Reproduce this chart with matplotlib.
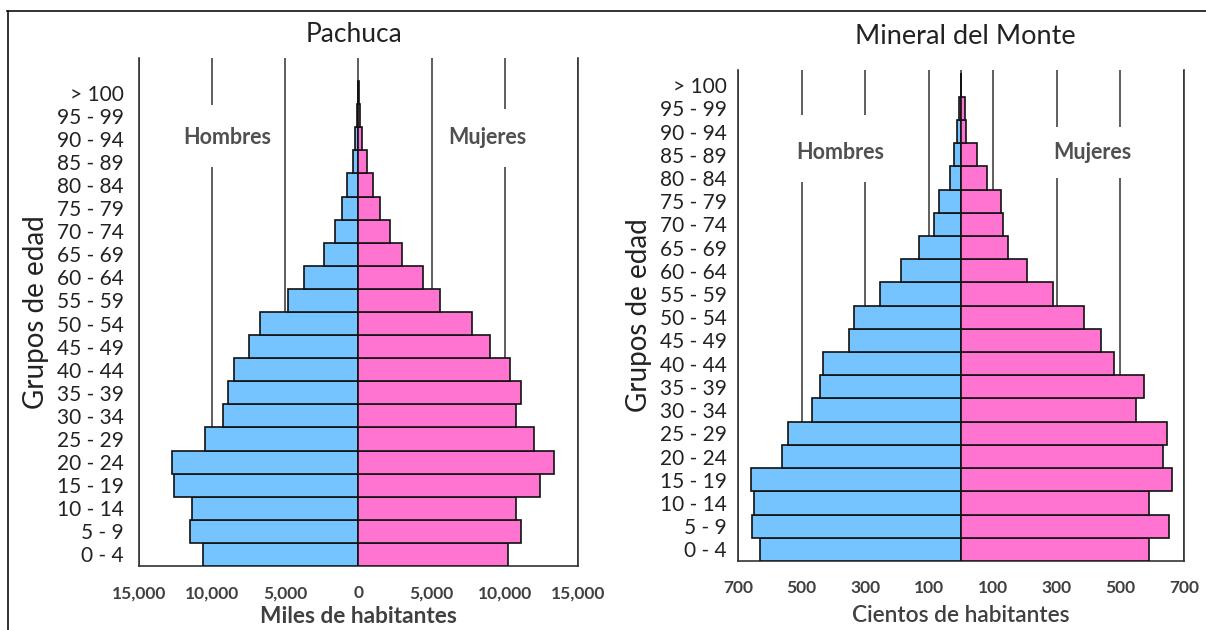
import matplotlib
matplotlib.use("Agg")
import matplotlib.pyplot as plt
from matplotlib.patches import Rectangle
from matplotlib.lines import Line2D
import numpy as np

plt.rcParams['font.family'] = ['Lato', 'DejaVu Sans']

age_groups = ["0 - 4", "5 - 9", "10 - 14", "15 - 19", "20 - 24", "25 - 29", "30 - 34",
              "35 - 39", "40 - 44", "45 - 49", "50 - 54", "55 - 59", "60 - 64", "65 - 69",
              "70 - 74", "75 - 79", "80 - 84", "85 - 89", "90 - 94", "95 - 99", "> 100"]

# Pachuca (miles de habitantes)
pachuca_hombres = [10620, 11510, 11350, 12640, 12770, 10510, 9250, 8890, 8490, 7500, 6760,
                   4850, 3750, 2360, 1620, 1130, 760, 390, 240, 100, 10]
pachuca_mujeres = [10250, 11120, 10750, 12400, 13370, 12010, 10750, 11120, 10380, 9020, 7760,
                   5580, 4380, 2990, 2150, 1490, 990, 600, 260, 100, 20]

# Mineral del Monte (cientos de habitantes)
mineral_hombres = [632, 655, 649, 659, 563, 542, 467, 443, 432, 353, 336,
                   255, 187, 131, 85, 69, 35, 23, 12, 7, 1]
mineral_mujeres = [589, 652, 589, 661, 635, 647, 548, 573, 480, 439, 387,
                   289, 208, 149, 132, 127, 81, 51, 16, 12, 1]

pachuca_ticks = [-15000, -10000, -5000, 0, 5000, 10000, 15000]
pachuca_ticklabels = ["15,000", "10,000", "5,000", "0", "5,000", "10,000", "15,000"]
mineral_ticks = [-700, -500, -300, -100, 0, 100, 300, 500, 700]
mineral_ticklabels = ["700", "500", "300", "100", "", "100", "300", "500", "700"]

BLUE = "#75C4FF"
PINK = "#FF73D1"
TXT = "#404040"

W, H = 1206, 630
fig = plt.figure(figsize=(W / 100, H / 100), dpi=100)


def fx(px):
    return px / W


def fy(py):
    return 1 - py / H


def panel(rect, hombres, mujeres, ticks, ticklabels, xlabel, xlabel_weight,
          ylim_top, lab_pad, tick_pad, gap_left, gap_right, text_y, text_xl, text_xr, lim):
    ax = fig.add_axes(rect)
    y = np.arange(len(age_groups))
    ax.barh(y, -np.array(hombres), height=1.0, color=BLUE, edgecolor="#111111",
            linewidth=1.2, zorder=3)
    ax.barh(y, np.array(mujeres), height=1.0, color=PINK, edgecolor="#111111",
            linewidth=1.2, zorder=3)
    ax.set_xlim(-lim, lim)
    ax.set_ylim(-0.5, ylim_top)
    ax.set_yticks(y)
    ax.set_yticklabels(age_groups, fontsize=15, color="#222222")
    ax.set_xticks(ticks)
    ax.set_xticklabels(ticklabels, fontsize=12.5, fontweight="bold", color=TXT)
    ax.tick_params(axis="x", length=0, pad=tick_pad)
    ax.tick_params(axis="y", length=0, pad=lab_pad)
    ax.xaxis.grid(True, color="#333333", linewidth=1.1, zorder=1)
    ax.set_axisbelow(True)
    for s in ["left", "right", "bottom"]:
        ax.spines[s].set_color("#333333")
        ax.spines[s].set_linewidth(1.2)
    ax.spines["top"].set_visible(False)
    # white areas behind the labels interrupting gridlines
    (gx0, gx1, gy0, gy1) = gap_left
    ax.add_patch(Rectangle((gx0, gy0), gx1 - gx0, gy1 - gy0, facecolor="white",
                           edgecolor="none", zorder=2))
    (gx0, gx1, gy0, gy1) = gap_right
    ax.add_patch(Rectangle((gx0, gy0), gx1 - gx0, gy1 - gy0, facecolor="white",
                           edgecolor="none", zorder=2))
    ax.text(text_xl, text_y, "Hombres", ha="center", va="center", fontsize=15.5,
            fontweight="bold", color="#505050", zorder=4)
    ax.text(text_xr, text_y, "Mujeres", ha="center", va="center", fontsize=15.5,
            fontweight="bold", color="#505050", zorder=4)
    ax.set_xlabel(xlabel, fontsize=16.3, fontweight=xlabel_weight, color=TXT, labelpad=3)
    ax.set_ylabel("Grupos de edad", fontsize=20, color="#222222", labelpad=6)
    return ax


# Pachuca panel: x 139..578 px, y 58..566 px
ax1 = panel([fx(139), fy(566), fx(578) - fx(139), fy(58) - fy(566)],
            pachuca_hombres, pachuca_mujeres, pachuca_ticks, pachuca_ticklabels,
            "Miles de habitantes", "bold", 21.5, 11, 14,
            (-13000, -6000, 16.8, 19.45), (6000, 13000, 16.8, 19.3),
            18.05, -9000, 8800, 15000)

# Mineral del Monte panel: x 738..1184 px, y 70..561 px
ax2 = panel([fx(738), fy(561), fx(1184) - fx(738), fy(70) - fy(561)],
            mineral_hombres, mineral_mujeres, mineral_ticks, mineral_ticklabels,
            "Cientos de habitantes", "semibold", 20.65, 8, 14,
            (-560, -200, 15.82, 18.71), (200, 600, 16.0, 18.19),
            17.1, -379, 411, 700)
ax2.set_xlabel("Cientos de habitantes", fontsize=16.3, fontweight="semibold", color=TXT,
               labelpad=6)

fig.text(fx(354), fy(35), "Pachuca", ha="center", va="center", fontsize=19, color="#222222")
fig.text(fx(965), fy(36), "Mineral del Monte", ha="center", va="center", fontsize=19.5,
         color="#222222")

# frame lines of the original image
fig.add_artist(Line2D([fx(7), 1], [fy(11), fy(11)], color="#111111", linewidth=1.2))
fig.add_artist(Line2D([fx(7.5), fx(7.5)], [fy(11), 0], color="#111111", linewidth=1.2))

fig.savefig("out.png", dpi=100, facecolor="white")
